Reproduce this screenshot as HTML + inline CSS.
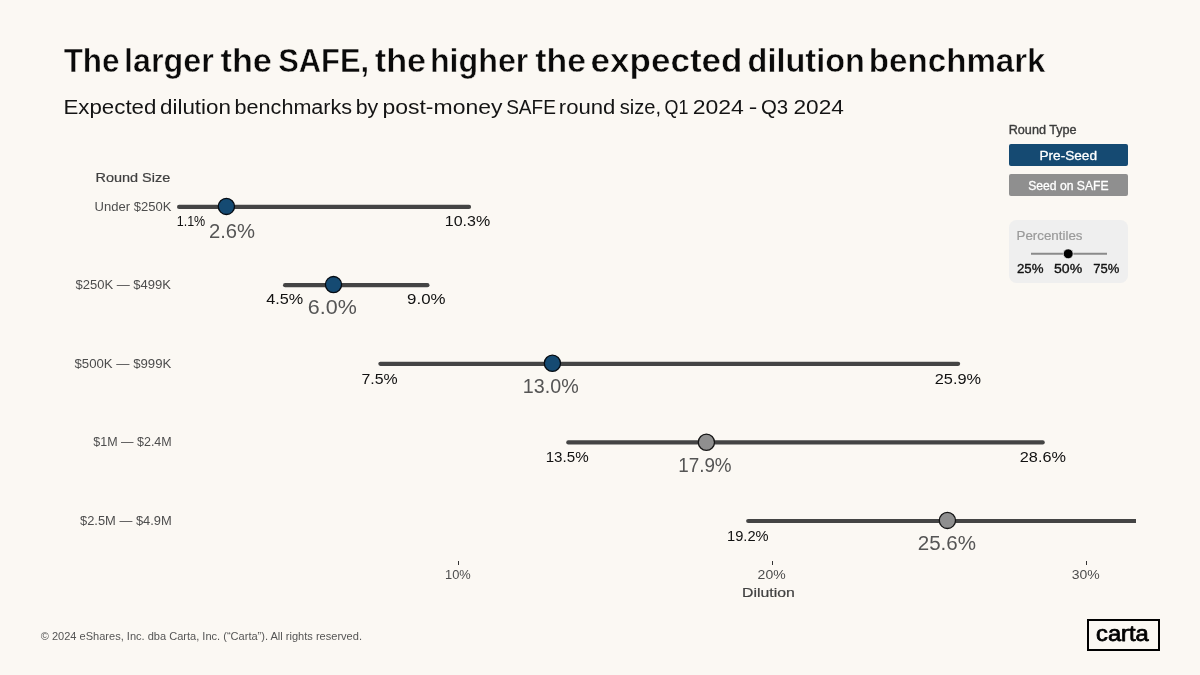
<!DOCTYPE html>
<html lang="en">
<head>
<meta charset="utf-8">
<title>The larger the SAFE, the higher the expected dilution benchmark</title>
<style>
  html, body { margin: 0; padding: 0; background: #fbf8f3; }
  body { width: 1200px; height: 675px; overflow: hidden; }
  svg { display: block; will-change: transform; }
  text { font-family: "Liberation Sans", sans-serif; stroke-linejoin: round; }
  .bar { stroke: #444444; stroke-width: 4.2; stroke-linecap: round; fill: none; }
  .pre { fill: #154a72; stroke: #050b12; stroke-width: 1.3; }
  .seed { fill: #8f8f8f; stroke: #151515; stroke-width: 1.3; }
</style>
</head>
<body>
<svg width="1200" height="675" viewBox="0 0 1200 675">
  <rect width="1200" height="675" fill="#fbf8f3"/>

  <!-- headings -->
  <text y="71.7" style="font-size:33px;font-weight:700;fill:#0a0a0a;stroke:#fbf8f3;stroke-width:.5px"><tspan x="63.66" textLength="55.85" lengthAdjust="spacingAndGlyphs">The</tspan> <tspan x="124.12" textLength="89.73" lengthAdjust="spacingAndGlyphs">larger</tspan> <tspan x="220.46" textLength="51.49" lengthAdjust="spacingAndGlyphs">the</tspan> <tspan x="278.16" textLength="90.96" lengthAdjust="spacingAndGlyphs">SAFE,</tspan> <tspan x="374.75" textLength="51.32" lengthAdjust="spacingAndGlyphs">the</tspan> <tspan x="429.91" textLength="98.50" lengthAdjust="spacingAndGlyphs">higher</tspan> <tspan x="535.33" textLength="50.67" lengthAdjust="spacingAndGlyphs">the</tspan> <tspan x="590.64" textLength="151.80" lengthAdjust="spacingAndGlyphs">expected</tspan> <tspan x="747.61" textLength="117.24" lengthAdjust="spacingAndGlyphs">dilution</tspan> <tspan x="868.87" textLength="176.69" lengthAdjust="spacingAndGlyphs">benchmark</tspan></text>
  <text y="113.6" style="font-size:19.5px;fill:#141414"><tspan x="63.49" textLength="92.88" lengthAdjust="spacingAndGlyphs">Expected</tspan> <tspan x="160.00" textLength="70.95" lengthAdjust="spacingAndGlyphs">dilution</tspan> <tspan x="234.60" textLength="117.54" lengthAdjust="spacingAndGlyphs">benchmarks</tspan> <tspan x="355.74" textLength="22.57" lengthAdjust="spacingAndGlyphs">by</tspan> <tspan x="382.51" textLength="119.91" lengthAdjust="spacingAndGlyphs">post-money</tspan> <tspan x="506.14" textLength="49.77" lengthAdjust="spacingAndGlyphs">SAFE</tspan> <tspan x="558.82" textLength="56.57" lengthAdjust="spacingAndGlyphs">round</tspan> <tspan x="619.69" textLength="41.38" lengthAdjust="spacingAndGlyphs">size,</tspan> <tspan x="664.51" textLength="23.87" lengthAdjust="spacingAndGlyphs">Q1</tspan> <tspan x="692.69" textLength="51.14" lengthAdjust="spacingAndGlyphs">2024</tspan> <tspan x="748.79" textLength="8.58" lengthAdjust="spacingAndGlyphs">-</tspan> <tspan x="760.99" textLength="27.19" lengthAdjust="spacingAndGlyphs">Q3</tspan> <tspan x="793.44" textLength="50.39" lengthAdjust="spacingAndGlyphs">2024</tspan></text>

  <!-- legend: round type -->
  <text x="1008.73" y="134" textLength="67.86" lengthAdjust="spacingAndGlyphs" style="font-size:12.3px;fill:#3c3c3c;stroke:#3c3c3c;stroke-width:.35px">Round Type</text>
  <rect x="1009" y="144" width="119" height="22" rx="2" fill="#154a72"/>
  <text x="1039.48" y="160.1" textLength="57.55" lengthAdjust="spacingAndGlyphs" style="font-size:12.4px;fill:#fff;stroke:#fff;stroke-width:.3px">Pre-Seed</text>
  <rect x="1009" y="174" width="119" height="22" rx="2" fill="#8f8f8f"/>
  <text x="1028.20" y="190" textLength="80.37" lengthAdjust="spacingAndGlyphs" style="font-size:12.4px;fill:#fff;stroke:#fff;stroke-width:.3px">Seed on SAFE</text>

  <!-- legend: percentiles -->
  <rect x="1009" y="220" width="119" height="63" rx="7.5" fill="#efefef"/>
  <text x="1016.55" y="240.1" textLength="65.93" lengthAdjust="spacingAndGlyphs" style="font-size:12.4px;fill:#9a9a9a;stroke:#9a9a9a;stroke-width:.2px">Percentiles</text>
  <line x1="1031" y1="253.8" x2="1107" y2="253.8" stroke="#8a8a8a" stroke-width="2"/>
  <circle cx="1068.2" cy="253.8" r="4.9" fill="#000" stroke="#efefef" stroke-width="0.7"/>
  <text x="1016.97" y="273.1" textLength="26.53" lengthAdjust="spacingAndGlyphs" style="font-size:12.3px;fill:#111;stroke:#111;stroke-width:.33px">25%</text><text x="1054.04" y="273.1" textLength="28.15" lengthAdjust="spacingAndGlyphs" style="font-size:12.3px;fill:#111;stroke:#111;stroke-width:.33px">50%</text><text x="1093.32" y="273.1" textLength="26.06" lengthAdjust="spacingAndGlyphs" style="font-size:12.3px;fill:#111;stroke:#111;stroke-width:.33px">75%</text>

  <!-- chart -->
  <text x="95.51" y="181.6" textLength="74.74" lengthAdjust="spacingAndGlyphs" style="font-size:13.2px;fill:#404040;stroke:#404040;stroke-width:.2px">Round Size</text>
  <g><text x="94.57" y="211.1" textLength="76.86" lengthAdjust="spacingAndGlyphs" style="font-size:12.5px;fill:#4d4d4d">Under $250K</text><path class="bar" d="M179.1 206.9H469.0"/><circle class="pre" cx="226.4" cy="206.4" r="8.1"/><text x="176.71" y="225.7" textLength="28.55" lengthAdjust="spacingAndGlyphs" style="font-size:15.2px;fill:#111">1.1%</text><text x="208.96" y="238" textLength="46.15" lengthAdjust="spacingAndGlyphs" style="font-size:19.6px;fill:#555">2.6%</text><text x="444.82" y="225.7" textLength="45.39" lengthAdjust="spacingAndGlyphs" style="font-size:15.2px;fill:#111">10.3%</text></g>
  <g><text x="75.49" y="289.4" textLength="95.43" lengthAdjust="spacingAndGlyphs" style="font-size:12.5px;fill:#4d4d4d">$250K — $499K</text><path class="bar" d="M285.1 285.2H427.4"/><circle class="pre" cx="333.5" cy="284.6" r="8.1"/><text x="266.16" y="304.3" textLength="36.97" lengthAdjust="spacingAndGlyphs" style="font-size:15.2px;fill:#111">4.5%</text><text x="307.80" y="314" textLength="48.96" lengthAdjust="spacingAndGlyphs" style="font-size:19.6px;fill:#555">6.0%</text><text x="407.14" y="304.3" textLength="38.41" lengthAdjust="spacingAndGlyphs" style="font-size:15.2px;fill:#111">9.0%</text></g>
  <g><text x="74.47" y="368" textLength="96.90" lengthAdjust="spacingAndGlyphs" style="font-size:12.5px;fill:#4d4d4d">$500K — $999K</text><path class="bar" d="M380.4 363.8H958.1"/><circle class="pre" cx="552.4" cy="363.3" r="8.1"/><text x="361.44" y="383.5" textLength="36.23" lengthAdjust="spacingAndGlyphs" style="font-size:15.2px;fill:#111">7.5%</text><text x="522.84" y="392.6" textLength="55.85" lengthAdjust="spacingAndGlyphs" style="font-size:19.6px;fill:#555">13.0%</text><text x="934.78" y="383.5" textLength="46.26" lengthAdjust="spacingAndGlyphs" style="font-size:15.2px;fill:#111">25.9%</text></g>
  <g><text x="93.34" y="446.3" textLength="78.39" lengthAdjust="spacingAndGlyphs" style="font-size:12.5px;fill:#4d4d4d">$1M — $2.4M</text><path class="bar" d="M568.3 442.4H1042.7"/><circle class="seed" cx="706.4" cy="442.2" r="8.1"/><text x="545.71" y="461.8" textLength="42.92" lengthAdjust="spacingAndGlyphs" style="font-size:15.2px;fill:#111">13.5%</text><text x="678.21" y="471.7" textLength="53.43" lengthAdjust="spacingAndGlyphs" style="font-size:19.6px;fill:#555">17.9%</text><text x="1019.82" y="461.8" textLength="46.09" lengthAdjust="spacingAndGlyphs" style="font-size:15.2px;fill:#111">28.6%</text></g>
  <g><text x="80.03" y="525" textLength="91.70" lengthAdjust="spacingAndGlyphs" style="font-size:12.5px;fill:#4d4d4d">$2.5M — $4.9M</text><path class="bar" d="M748.2 521.0H1136" style="stroke-linecap:butt"/><circle cx="748.2" cy="521.0" r="2.1" fill="#444444"/><circle class="seed" cx="947.4" cy="520.4" r="8.1"/><text x="727.02" y="540.6" textLength="41.56" lengthAdjust="spacingAndGlyphs" style="font-size:15.2px;fill:#111">19.2%</text><text x="917.72" y="550" textLength="58.27" lengthAdjust="spacingAndGlyphs" style="font-size:19.6px;fill:#555">25.6%</text></g>

  <!-- x axis -->
  <g stroke="#333" stroke-width="1">
    <line x1="458.5" y1="561" x2="458.5" y2="565"/>
    <line x1="772.5" y1="561" x2="772.5" y2="565"/>
    <line x1="1086.5" y1="561" x2="1086.5" y2="565"/>
  </g>
  <text x="445.00" y="579" textLength="25.73" lengthAdjust="spacingAndGlyphs" style="font-size:12.4px;fill:#4d4d4d">10%</text><text x="757.61" y="579" textLength="28.00" lengthAdjust="spacingAndGlyphs" style="font-size:12.4px;fill:#4d4d4d">20%</text><text x="1071.65" y="579" textLength="27.99" lengthAdjust="spacingAndGlyphs" style="font-size:12.4px;fill:#4d4d4d">30%</text>
  <text x="742.14" y="597.4" textLength="52.67" lengthAdjust="spacingAndGlyphs" style="font-size:13.2px;fill:#404040;stroke:#404040;stroke-width:.2px">Dilution</text>

  <!-- footer -->
  <text x="40.68" y="639.8" textLength="321.32" lengthAdjust="spacingAndGlyphs" style="font-size:11.2px;fill:#555">© 2024 eShares, Inc. dba Carta, Inc. (“Carta”). All rights reserved.</text>
  <rect x="1088" y="620" width="71" height="30" fill="none" stroke="#000" stroke-width="2"/>
  <text x="1096.09" y="640.7" textLength="52.73" lengthAdjust="spacingAndGlyphs" style="font-size:21.5px;fill:#000;stroke:#000;stroke-width:.75px">carta</text>
</svg>
</body>
</html>
